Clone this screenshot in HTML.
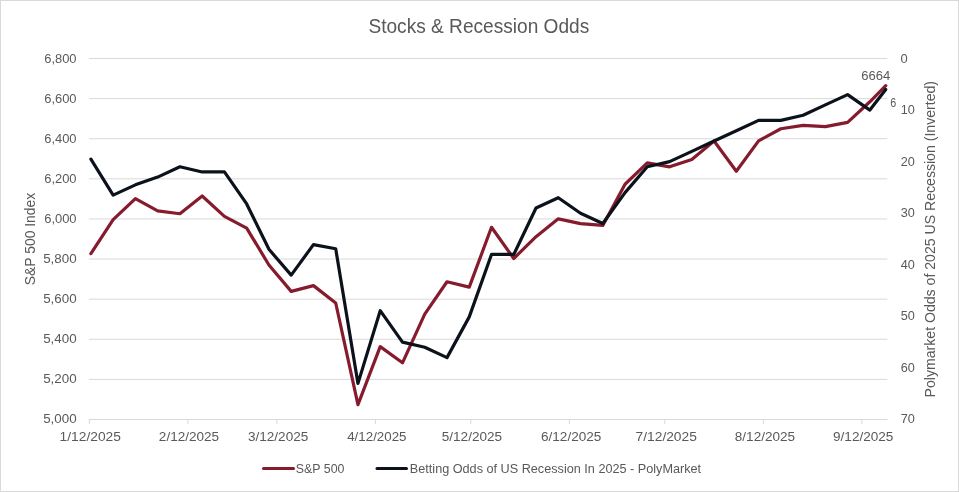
<!DOCTYPE html>
<html><head><meta charset="utf-8"><style>
html,body{margin:0;padding:0;background:#fff;}
body{width:959px;height:492px;overflow:hidden;}
.wrap{position:relative;width:957px;height:490px;border:1px solid #d9d9d9;}
svg{position:absolute;left:-1px;top:-1px;will-change:transform;}
.t{font-family:"Liberation Sans",sans-serif;font-size:13px;fill:#595959;}
.title{font-family:"Liberation Sans",sans-serif;font-size:20px;fill:#595959;}
</style></head><body><div class="wrap">
<svg width="959" height="492" viewBox="0 0 959 492" xmlns="http://www.w3.org/2000/svg">
<line x1="88.90" y1="58.50" x2="887.35" y2="58.50" stroke="#d9d9d9" stroke-width="1"/>
<line x1="88.90" y1="98.61" x2="887.35" y2="98.61" stroke="#d9d9d9" stroke-width="1"/>
<line x1="88.90" y1="138.72" x2="887.35" y2="138.72" stroke="#d9d9d9" stroke-width="1"/>
<line x1="88.90" y1="178.83" x2="887.35" y2="178.83" stroke="#d9d9d9" stroke-width="1"/>
<line x1="88.90" y1="218.94" x2="887.35" y2="218.94" stroke="#d9d9d9" stroke-width="1"/>
<line x1="88.90" y1="259.06" x2="887.35" y2="259.06" stroke="#d9d9d9" stroke-width="1"/>
<line x1="88.90" y1="299.17" x2="887.35" y2="299.17" stroke="#d9d9d9" stroke-width="1"/>
<line x1="88.90" y1="339.28" x2="887.35" y2="339.28" stroke="#d9d9d9" stroke-width="1"/>
<line x1="88.90" y1="379.39" x2="887.35" y2="379.39" stroke="#d9d9d9" stroke-width="1"/>
<line x1="88.90" y1="419.5" x2="887.35" y2="419.5" stroke="#d9d9d9" stroke-width="1"/>
<line x1="89.30" y1="419.0" x2="89.30" y2="424.0" stroke="#d9d9d9" stroke-width="1"/>
<line x1="187.86" y1="419.0" x2="187.86" y2="424.0" stroke="#d9d9d9" stroke-width="1"/>
<line x1="276.89" y1="419.0" x2="276.89" y2="424.0" stroke="#d9d9d9" stroke-width="1"/>
<line x1="375.45" y1="419.0" x2="375.45" y2="424.0" stroke="#d9d9d9" stroke-width="1"/>
<line x1="470.84" y1="419.0" x2="470.84" y2="424.0" stroke="#d9d9d9" stroke-width="1"/>
<line x1="569.40" y1="419.0" x2="569.40" y2="424.0" stroke="#d9d9d9" stroke-width="1"/>
<line x1="664.79" y1="419.0" x2="664.79" y2="424.0" stroke="#d9d9d9" stroke-width="1"/>
<line x1="763.35" y1="419.0" x2="763.35" y2="424.0" stroke="#d9d9d9" stroke-width="1"/>
<line x1="861.91" y1="419.0" x2="861.91" y2="424.0" stroke="#d9d9d9" stroke-width="1"/>
<polyline points="90.89,253.63 113.15,219.61 135.40,198.64 157.66,210.82 179.92,213.73 202.17,195.95 224.43,216.31 246.68,228.07 268.94,265.03 291.20,291.36 313.45,285.62 335.71,302.99 357.97,404.64 380.22,346.63 402.48,362.80 424.74,314.17 446.99,281.78 469.25,287.15 491.50,227.29 513.76,258.49 536.02,236.66 558.27,218.87 580.53,223.56 602.79,225.39 625.04,184.23 647.30,162.92 669.56,166.85 691.81,159.42 714.07,141.00 736.32,171.21 758.58,140.84 780.84,128.73 803.09,125.30 825.35,126.64 847.61,122.38 869.86,101.76 885.76,85.70" fill="none" stroke="#861b2d" stroke-width="3.2" stroke-linejoin="round" stroke-linecap="round"/>
<polyline points="90.89,159.06 113.15,195.16 135.40,184.85 157.66,177.11 179.92,166.80 202.17,171.96 224.43,171.96 246.68,203.93 268.94,249.31 291.20,275.10 313.45,244.67 335.71,248.80 357.97,383.40 380.22,310.68 402.48,342.14 424.74,347.30 446.99,357.61 469.25,316.87 491.50,254.47 513.76,254.47 536.02,208.06 558.27,197.74 580.53,213.21 602.79,223.53 625.04,192.59 647.30,166.80 669.56,161.64 691.81,151.33 714.07,141.01 736.32,130.70 758.58,120.39 780.84,120.39 803.09,115.23 825.35,104.91 847.61,94.60 869.86,110.07 885.76,89.44" fill="none" stroke="#0c121b" stroke-width="3.2" stroke-linejoin="round" stroke-linecap="round"/>
<line x1="263.5" y1="468.5" x2="293.5" y2="468.5" stroke="#861b2d" stroke-width="3" stroke-linecap="round"/>
<line x1="377" y1="468.5" x2="406.5" y2="468.5" stroke="#0c121b" stroke-width="3" stroke-linecap="round"/>
<text x="368.40" y="33.20" textLength="220.91" lengthAdjust="spacingAndGlyphs" class="title" style="font-size:20px">Stocks &amp; Recession Odds</text>
<text x="43.20" y="422.97" textLength="33.47" lengthAdjust="spacingAndGlyphs" class="t" style="font-size:13.4px">5,000</text>
<text x="43.20" y="382.94" textLength="33.47" lengthAdjust="spacingAndGlyphs" class="t" style="font-size:13.4px">5,200</text>
<text x="43.20" y="342.91" textLength="33.47" lengthAdjust="spacingAndGlyphs" class="t" style="font-size:13.4px">5,400</text>
<text x="43.20" y="302.88" textLength="33.47" lengthAdjust="spacingAndGlyphs" class="t" style="font-size:13.4px">5,600</text>
<text x="43.20" y="262.85" textLength="33.47" lengthAdjust="spacingAndGlyphs" class="t" style="font-size:13.4px">5,800</text>
<text x="44.20" y="222.82" textLength="32.39" lengthAdjust="spacingAndGlyphs" class="t" style="font-size:13.4px">6,000</text>
<text x="44.20" y="182.79" textLength="32.39" lengthAdjust="spacingAndGlyphs" class="t" style="font-size:13.4px">6,200</text>
<text x="44.20" y="142.76" textLength="32.39" lengthAdjust="spacingAndGlyphs" class="t" style="font-size:13.4px">6,400</text>
<text x="44.20" y="102.73" textLength="32.39" lengthAdjust="spacingAndGlyphs" class="t" style="font-size:13.4px">6,600</text>
<text x="44.20" y="62.70" textLength="32.39" lengthAdjust="spacingAndGlyphs" class="t" style="font-size:13.4px">6,800</text>
<text x="900.50" y="62.80" textLength="7.20" lengthAdjust="spacingAndGlyphs" class="t" style="font-size:13.4px">0</text>
<text x="900.80" y="114.26" textLength="14.10" lengthAdjust="spacingAndGlyphs" class="t" style="font-size:13.4px">10</text>
<text x="900.80" y="165.72" textLength="14.10" lengthAdjust="spacingAndGlyphs" class="t" style="font-size:13.4px">20</text>
<text x="900.80" y="217.18" textLength="14.10" lengthAdjust="spacingAndGlyphs" class="t" style="font-size:13.4px">30</text>
<text x="900.80" y="268.64" textLength="14.10" lengthAdjust="spacingAndGlyphs" class="t" style="font-size:13.4px">40</text>
<text x="900.80" y="320.10" textLength="14.10" lengthAdjust="spacingAndGlyphs" class="t" style="font-size:13.4px">50</text>
<text x="900.80" y="371.56" textLength="14.10" lengthAdjust="spacingAndGlyphs" class="t" style="font-size:13.4px">60</text>
<text x="900.80" y="423.02" textLength="14.10" lengthAdjust="spacingAndGlyphs" class="t" style="font-size:13.4px">70</text>
<text x="59.60" y="441.10" textLength="61.35" lengthAdjust="spacingAndGlyphs" class="t" style="font-size:13.4px">1/12/2025</text>
<text x="158.86" y="441.10" textLength="60.31" lengthAdjust="spacingAndGlyphs" class="t" style="font-size:13.4px">2/12/2025</text>
<text x="247.96" y="441.10" textLength="60.31" lengthAdjust="spacingAndGlyphs" class="t" style="font-size:13.4px">3/12/2025</text>
<text x="347.21" y="441.10" textLength="59.31" lengthAdjust="spacingAndGlyphs" class="t" style="font-size:13.4px">4/12/2025</text>
<text x="441.75" y="441.10" textLength="60.31" lengthAdjust="spacingAndGlyphs" class="t" style="font-size:13.4px">5/12/2025</text>
<text x="541.01" y="441.10" textLength="60.31" lengthAdjust="spacingAndGlyphs" class="t" style="font-size:13.4px">6/12/2025</text>
<text x="635.55" y="441.10" textLength="61.33" lengthAdjust="spacingAndGlyphs" class="t" style="font-size:13.4px">7/12/2025</text>
<text x="734.80" y="441.10" textLength="60.31" lengthAdjust="spacingAndGlyphs" class="t" style="font-size:13.4px">8/12/2025</text>
<text x="833.06" y="441.10" textLength="60.31" lengthAdjust="spacingAndGlyphs" class="t" style="font-size:13.4px">9/12/2025</text>
<text x="861.20" y="79.80" textLength="29.04" lengthAdjust="spacingAndGlyphs" class="t" style="font-size:13.4px">6664</text>
<text x="890.20" y="106.60" textLength="5.97" lengthAdjust="spacingAndGlyphs" class="t" style="font-size:13.4px">6</text>
<text transform="translate(35.00,285.20) rotate(-90)" x="0" y="0" textLength="92.41" lengthAdjust="spacingAndGlyphs" class="t" style="font-size:15.3px">S&amp;P 500 Index</text>
<text transform="translate(935.00,397.40) rotate(-90)" x="0" y="0" textLength="316.41" lengthAdjust="spacingAndGlyphs" class="t" style="font-size:15.3px">Polymarket Odds of 2025 US Recession (Inverted)</text>
<text x="295.80" y="472.70" textLength="48.62" lengthAdjust="spacingAndGlyphs" class="t" style="font-size:13.4px">S&amp;P 500</text>
<text x="409.80" y="472.70" textLength="291.31" lengthAdjust="spacingAndGlyphs" class="t" style="font-size:13.4px">Betting Odds of US Recession In 2025 - PolyMarket</text>
</svg></div></body></html>
